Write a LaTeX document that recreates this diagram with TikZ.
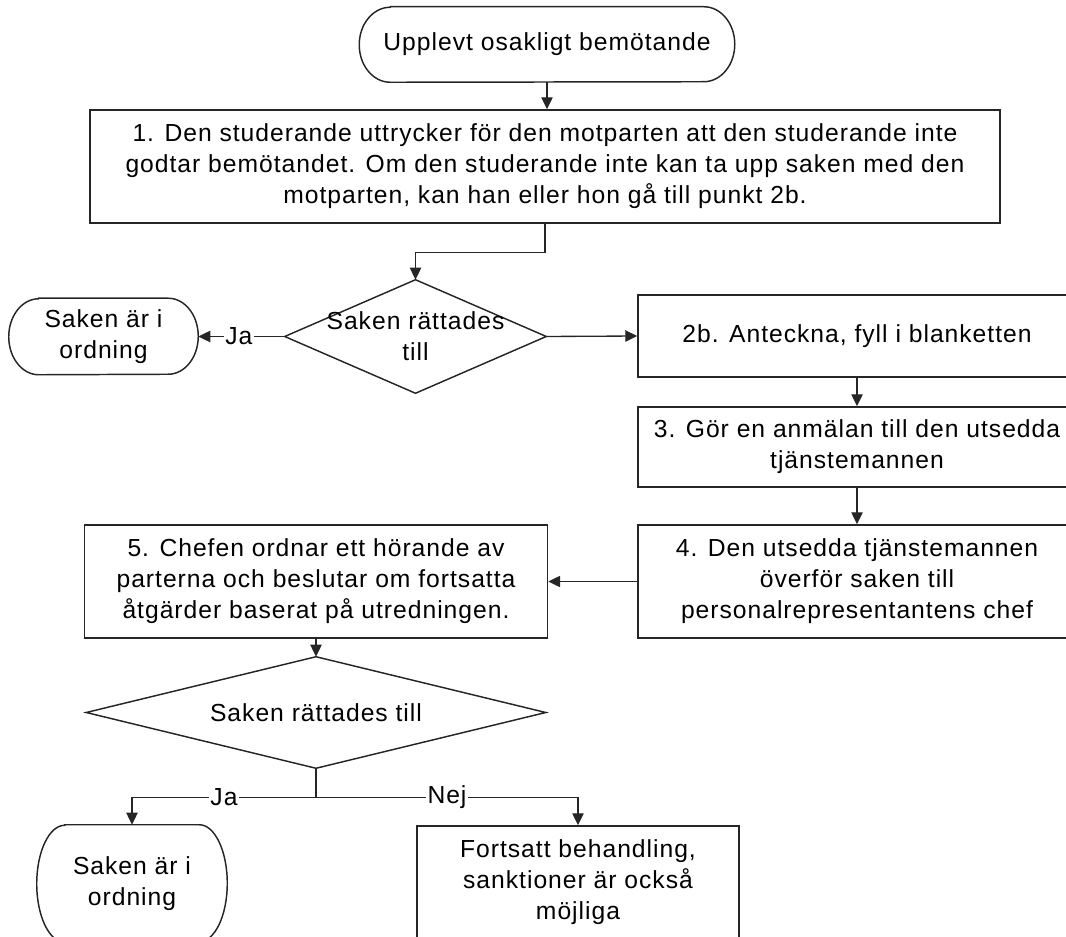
\documentclass[tikz,border=0pt]{standalone}
\usepackage{fontspec}
\setmainfont{Liberation Sans}[LetterSpace=4]
\usetikzlibrary{arrows.meta,calc,backgrounds}
\newcommand\pxu{0.75pt}
% terminal outline around a (draw=none) rectangular node: #1 name, #2 x radius (px), #3 half height (px)
\newcommand\terminalpath[3]{%
  \draw[shapeline] ([xshift=#2*\pxu]#1.north west) -- ([xshift=-#2*\pxu]#1.north east)
    arc[start angle=90,end angle=-90,x radius=#2*\pxu,y radius=#3*\pxu]
    -- ([xshift=#2*\pxu]#1.south west)
    arc[start angle=270,end angle=90,x radius=#2*\pxu,y radius=#3*\pxu] -- cycle;}
\newcommand\diamondpath[1]{%
  \begin{scope}[on background layer]
  \draw[shapeline] (#1.north) -- (#1.east) -- (#1.south) -- (#1.west) -- cycle;
  \end{scope}}
\begin{document}
\begin{tikzpicture}[x=0.75pt,y=-0.75pt,
  every node/.style={font=\fontsize{18.5pt}{23.25pt}\selectfont, inner sep=0pt, text=black},
  boxnode/.style={draw=black!85, line width=1.1pt, align=center},
  plain/.style={align=center},
  shapeline/.style={draw=black!85, line width=1.1pt},
  conn/.style={draw=black!85, line width=1pt},
  arr/.style={conn, -{Triangle[length=9pt,width=8.5pt]}},
  lbl/.style={fill=white, inner sep=1pt}]
\path[use as bounding box] (0,0) rectangle (1066,937);

% nodes
\node[plain, minimum width=375*\pxu, minimum height=75*\pxu] (t0) at (547,44.5) {Upplevt osakligt bemötande};
\terminalpath{t0}{31}{37.5}

\node[boxnode, minimum width=910*\pxu, minimum height=113*\pxu] (b1) at (545,166.5)
  {1. Den studerande uttrycker för den motparten att den studerande inte\\
   godtar bemötandet. Om den studerande inte kan ta upp saken med den\\
   motparten, kan han eller hon gå till punkt 2b.};

\node[plain, minimum width=261*\pxu, minimum height=113*\pxu] (d1) at (415.5,336.5) {Saken rättades\\till};
\diamondpath{d1}

\node[plain, minimum width=189*\pxu, minimum height=76*\pxu] (t1) at (103.5,336.5) {Saken är i\\ordning};
\terminalpath{t1}{30}{38}

\node[boxnode, minimum width=438*\pxu, minimum height=82*\pxu] (b2b) at (857,336) {2b. Anteckna, fyll i blanketten};
\node[boxnode, minimum width=438*\pxu, minimum height=80*\pxu] (b3) at (857,447) {3. Gör en anmälan till den utsedda\\tjänstemannen};
\node[boxnode, minimum width=438*\pxu, minimum height=113*\pxu] (b4) at (857,581.5) {4. Den utsedda tjänstemannen\\överför saken till\\personalrepresentantens chef};
\node[boxnode, minimum width=463*\pxu, minimum height=113*\pxu] (b5) at (316,581.5) {5. Chefen ordnar ett hörande av\\parterna och beslutar om fortsatta\\åtgärder baserat på utredningen.};

\node[plain, minimum width=459*\pxu, minimum height=111*\pxu] (d2) at (316,712.5) {Saken rättades till};
\diamondpath{d2}

\node[plain, minimum width=190*\pxu, minimum height=117*\pxu] (t2) at (132,883.5) {Saken är i\\ordning};
\terminalpath{t2}{28}{58.5}

\node[boxnode, minimum width=322*\pxu, minimum height=113*\pxu] (b6) at (578,882.5) {Fortsatt behandling,\\sanktioner är också\\möjliga};

% connectors
\draw[arr] (t0.south) -- (t0.south |- b1.north);
\draw[arr] (b1.south) -- ++(0,29) -| (d1.north);
\draw[arr] (d1.west) -- node[lbl,pos=0.53]{Ja} (t1.east);
\draw[arr] (d1.east) -- (b2b.west);
\draw[arr] (b2b.south) -- (b3.north);
\draw[arr] (b3.south) -- (b4.north);
\draw[arr] (b4.west) -- (b5.east);
\draw[arr] (b5.south) -- (d2.north);
\draw[conn] (d2.south) -- ++(0,29) coordinate (br);
\draw[arr] (br) -| node[lbl,pos=0.25]{Ja} (t2.north);
\draw[arr] (br) -| node[lbl,pos=0.25]{Nej} (b6.north);
\end{tikzpicture}
\end{document}
